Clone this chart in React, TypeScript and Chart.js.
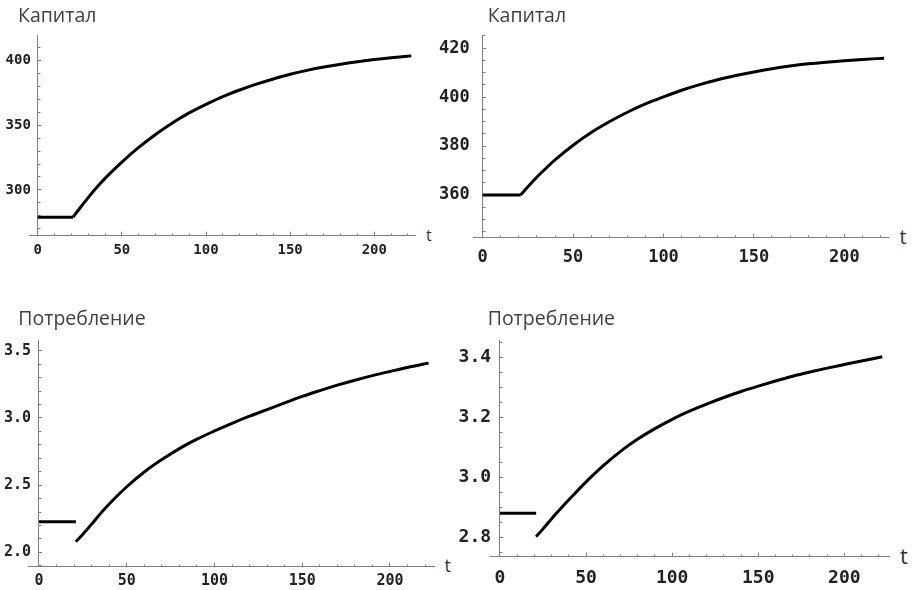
import React, { useEffect, useRef } from "react";
import { Chart, registerables } from "chart.js";

Chart.register(...registerables);

// ---- data ----
const preShockT = [0, 21];
const postShockT = [21, 25, 30, 35, 40, 50, 60, 70, 80, 90, 100, 110, 120, 130, 140, 150, 160, 170, 180, 190, 200, 210, 222];

const capitalAPre = [279, 279];
const capitalAPost = [279, 285.9, 294.1, 301.8, 308.9, 321.5, 332.8, 342.8, 351.7, 359.4, 366, 372, 377.1, 381.6, 385.6, 389.2, 392.2, 394.8, 397, 398.9, 400.6, 402, 403.4];

const capitalBPre = [360, 360];
const capitalBPost = [360, 363.3, 367.3, 370.9, 374.3, 380.3, 385.5, 389.9, 393.8, 397.2, 400.1, 402.8, 405.1, 407.1, 408.8, 410.3, 411.6, 412.7, 413.6, 414.3, 414.9, 415.4, 415.9];

const consumptionAPre = [2.228, 2.228];
const consumptionAPost = [2.079, 2.135, 2.21, 2.288, 2.36, 2.488, 2.598, 2.69, 2.772, 2.842, 2.903, 2.96, 3.013, 3.062, 3.112, 3.16, 3.203, 3.244, 3.281, 3.315, 3.346, 3.376, 3.408];

const consumptionBPre = [2.88, 2.88];
const consumptionBPost = [2.802, 2.828, 2.862, 2.894, 2.925, 2.985, 3.039, 3.087, 3.128, 3.163, 3.194, 3.221, 3.245, 3.267, 3.287, 3.305, 3.322, 3.338, 3.352, 3.365, 3.377, 3.389, 3.403];

// ---- tick values ----
const xMajorTicks = [0, 50, 100, 150, 200];
const xMinorTicks = [0, 10, 20, 30, 40, 50, 60, 70, 80, 90, 100, 110, 120, 130, 140, 150, 160, 170, 180, 190, 200, 210, 220];

const capitalAMajor = [300, 350, 400];
const capitalAMinor = [270, 280, 290, 300, 310, 320, 330, 340, 350, 360, 370, 380, 390, 400, 410];
const capitalBMajor = [360, 380, 400, 420];
const capitalBMinor = [345, 350, 355, 360, 365, 370, 375, 380, 385, 390, 395, 400, 405, 410, 415, 420, 425];
const consumptionAMajor = [2.0, 2.5, 3.0, 3.5];
const consumptionAMinor = [1.9, 2.0, 2.1, 2.2, 2.3, 2.4, 2.5, 2.6, 2.7, 2.8, 2.9, 3.0, 3.1, 3.2, 3.3, 3.4, 3.5];
const consumptionBMajor = [2.8, 3.0, 3.2, 3.4];
const consumptionBMinor = [2.75, 2.8, 2.85, 2.9, 2.95, 3.0, 3.05, 3.1, 3.15, 3.2, 3.25, 3.3, 3.35, 3.4, 3.45];

const titleCapital = "Капитал";
const titleConsumption = "Потребление";
const axisName = "t";

// ---- layout / style ----
type Box = { left: number; top: number; width: number; height: number };
type Area = { left: number; right: number; top: number; bottom: number };
type Spec = {
  id: string;
  title: string;
  pre: number[];
  post: number[];
  yMajor: number[];
  yMinor: number[];
  decimals: number;
  box: Box;
  area: Area;
  xMin: number;
  xMax: number;
  yMin: number;
  yMax: number;
  fontSize: number;
  xPad: number;
  yLabelLeft: number;
  titlePos: { left: number; top: number };
  tPos: { left: number; top: number; size: number };
};

const AXIS_COLOR = "#808080";
const LABEL_COLOR = "#222";
const TITLE_SIZE = 19.5;

const specs: Spec[] = [
  {
    id: "c1", title: titleCapital, pre: capitalAPre, post: capitalAPost,
    yMajor: capitalAMajor, yMinor: capitalAMinor, decimals: 0,
    box: { left: 0, top: 0, width: 424, height: 295 },
    area: { left: 29.3, right: 415.7, top: 35, bottom: 235.7 },
    xMin: -5, xMax: 224.6, yMin: 264.7, yMax: 419.5,
    fontSize: 14, xPad: 9.8, yLabelLeft: 5.6,
    titlePos: { left: 18, top: 5.4 }, tPos: { left: 426, top: 226.5, size: 16 },
  },
  {
    id: "c2", title: titleCapital, pre: capitalBPre, post: capitalBPost,
    yMajor: capitalBMajor, yMinor: capitalBMinor, decimals: 0,
    box: { left: 436, top: 0, width: 460, height: 295 },
    area: { left: 473.66, right: 888.97, top: 35, bottom: 237.7 },
    xMin: -5, xMax: 224.7, yMin: 342.5, yMax: 425.4,
    fontSize: 17, xPad: 14, yLabelLeft: 439,
    titlePos: { left: 487.7, top: 5.4 }, tPos: { left: 899.5, top: 227.2, size: 20 },
  },
  {
    id: "c3", title: titleConsumption, pre: consumptionAPre, post: consumptionAPost,
    yMajor: consumptionAMajor, yMinor: consumptionAMinor, decimals: 1,
    box: { left: 0, top: 295, width: 442, height: 295 },
    area: { left: 28.47, right: 434.9, top: 340, bottom: 566.7 },
    xMin: -6, xMax: 225.6, yMin: 1.893, yMax: 3.58,
    fontSize: 15, xPad: 9.2, yLabelLeft: 4,
    titlePos: { left: 18.3, top: 307.7 }, tPos: { left: 444.5, top: 555.7, size: 18 },
  },
  {
    id: "c4", title: titleConsumption, pre: consumptionBPre, post: consumptionBPost,
    yMajor: consumptionBMajor, yMinor: consumptionBMinor, decimals: 1,
    box: { left: 456, top: 295, width: 440, height: 295 },
    area: { left: 490.7, right: 889.3, top: 340, bottom: 556.7 },
    xMin: -5.4, xMax: 226.1, yMin: 2.735, yMax: 3.459,
    fontSize: 18, xPad: 14.75, yLabelLeft: 458.6,
    titlePos: { left: 487.7, top: 307.7 }, tPos: { left: 900, top: 543.5, size: 22 },
  },
];

function ChartPanel({ spec }: { spec: Spec }) {
  const ref = useRef<HTMLCanvasElement>(null);

  useEffect(() => {
    const canvas = ref.current;
    if (!canvas) return;
    const s = spec;
    const font = { family: "'DejaVu Sans Mono', monospace", size: s.fontSize, weight: "bold" as const };
    const xAxisHeight = s.box.top + s.box.height - s.area.bottom;
    const padding = {
      left: s.area.left - s.box.left,
      top: s.area.top - s.box.top,
      right: s.box.left + s.box.width - s.area.right,
      bottom: 0,
    };
    const setTicks = (vals: number[]) => (scale: any) => {
      scale.ticks = vals.map((value) => ({ value }));
    };
    const markGrid = (len: number) => ({
      display: true,
      drawOnChartArea: false,
      drawTicks: true,
      tickLength: len,
      tickColor: AXIS_COLOR,
      tickWidth: 1,
    });

    const chart = new Chart(canvas, {
      type: "line",
      data: {
        datasets: [
          {
            data: preShockT.map((x, i) => ({ x, y: s.pre[i] })),
            borderColor: "#000",
            borderWidth: 3,
            pointRadius: 0,
            fill: false,
            tension: 0,
            xAxisID: "x",
            yAxisID: "y",
          },
          {
            data: postShockT.map((x, i) => ({ x, y: s.post[i] })),
            borderColor: "#000",
            borderWidth: 3,
            pointRadius: 0,
            fill: false,
            cubicInterpolationMode: "monotone",
            borderJoinStyle: "round",
            xAxisID: "x",
            yAxisID: "y",
          },
        ],
      },
      options: {
        animation: false,
        responsive: false,
        events: [],
        layout: { padding },
        plugins: {
          legend: { display: false },
          tooltip: { enabled: false },
          title: { display: false },
        },
        scales: {
          x: {
            type: "linear",
            position: "bottom",
            bounds: "data",
            min: s.xMin,
            max: s.xMax,
            afterBuildTicks: setTicks(xMajorTicks),
            afterFit: (scale: any) => { scale.height = xAxisHeight; },
            ticks: {
              autoSkip: false,
              maxRotation: 0,
              padding: s.xPad,
              color: LABEL_COLOR,
              font,
              callback: (v: any) => String(v),
            },
            grid: markGrid(-4),
            border: { display: true, color: AXIS_COLOR, width: 1 },
          },
          xm: {
            type: "linear",
            axis: "x",
            position: { y: s.yMin },
            bounds: "data",
            min: s.xMin,
            max: s.xMax,
            afterBuildTicks: setTicks(xMinorTicks),
            ticks: { display: false, autoSkip: false },
            grid: markGrid(-2.5),
            border: { display: false },
          },
          y: {
            type: "linear",
            position: "left",
            bounds: "data",
            min: s.yMin,
            max: s.yMax,
            afterBuildTicks: setTicks(s.yMajor),
            afterFit: (scale: any) => { scale.width = 0; },
            ticks: {
              autoSkip: false,
              mirror: true,
              crossAlign: "near",
              padding: s.yLabelLeft - s.area.left,
              color: LABEL_COLOR,
              font,
              callback: (v: any) => Number(v).toFixed(s.decimals),
            },
            grid: { display: false, drawTicks: false },
            border: { display: false },
          },
          yt: {
            type: "linear",
            axis: "y",
            position: { x: 0 },
            bounds: "data",
            min: s.yMin,
            max: s.yMax,
            afterBuildTicks: setTicks(s.yMajor),
            ticks: { display: false, autoSkip: false },
            grid: markGrid(-4),
            border: { display: true, color: AXIS_COLOR, width: 1 },
          },
          ym: {
            type: "linear",
            axis: "y",
            position: { x: 0 },
            bounds: "data",
            min: s.yMin,
            max: s.yMax,
            afterBuildTicks: setTicks(s.yMinor),
            ticks: { display: false, autoSkip: false },
            grid: markGrid(-2.5),
            border: { display: false },
          },
        } as any,
      },
    });
    return () => chart.destroy();
  }, [spec]);

  return (
    <>
      <canvas
        ref={ref}
        width={spec.box.width}
        height={spec.box.height}
        style={{
          position: "absolute",
          left: spec.box.left,
          top: spec.box.top,
          width: spec.box.width,
          height: spec.box.height,
        }}
      />
      <div
        style={{
          position: "absolute",
          left: spec.titlePos.left,
          top: spec.titlePos.top,
          fontFamily: "'Open Sans', sans-serif",
          fontSize: TITLE_SIZE,
          lineHeight: `${TITLE_SIZE}px`,
          color: "#404040",
          whiteSpace: "nowrap",
        }}
      >
        {spec.title}
      </div>
      <div
        style={{
          position: "absolute",
          left: spec.tPos.left,
          top: spec.tPos.top,
          fontFamily: "'Open Sans', sans-serif",
          fontSize: spec.tPos.size,
          lineHeight: `${spec.tPos.size}px`,
          color: "#333",
          whiteSpace: "nowrap",
        }}
      >
        {axisName}
      </div>
    </>
  );
}

export default function App() {
  return (
    <div
      style={{
        position: "absolute",
        left: 0,
        top: 0,
        width: 916,
        height: 590,
        background: "#fff",
        overflow: "hidden",
      }}
    >
      {specs.map((s) => (
        <ChartPanel key={s.id} spec={s} />
      ))}
    </div>
  );
}
